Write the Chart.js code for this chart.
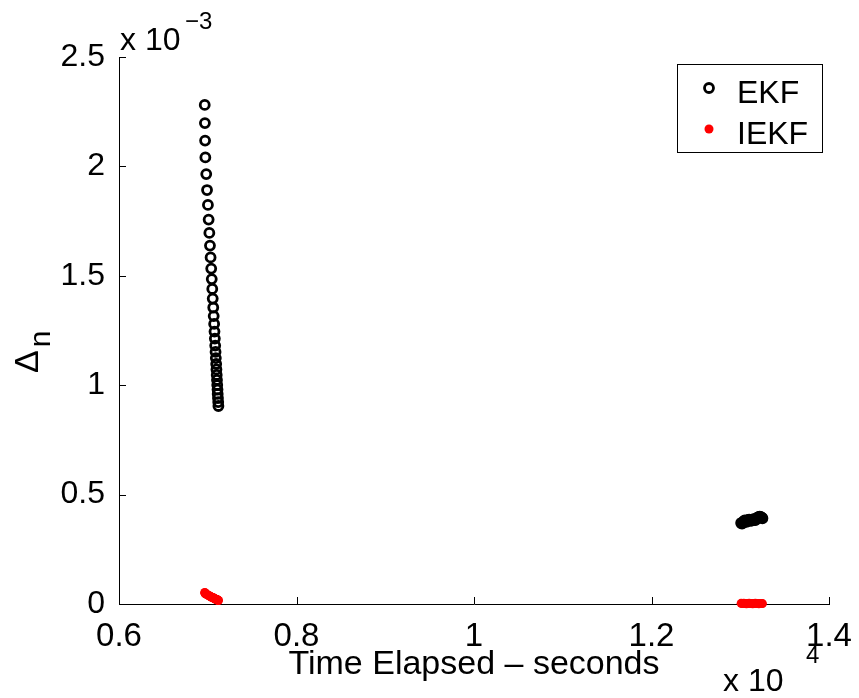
<!DOCTYPE html>
<html>
<head>
<meta charset="utf-8">
<script src="https://cdn.jsdelivr.net/npm/chart.js@4.4.1/dist/chart.umd.min.js"></script>
<style>
  html, body { margin: 0; padding: 0; background: #fff; }
  #wrap { width: 859px; height: 698px; }
</style>
</head>
<body>
<div id="wrap"><canvas id="delta-chart" width="859" height="698"></canvas></div>
<script>
// elapsed time in seconds, Delta_n in units of 1e-3
const runOneTime = [6966, 6968, 6970, 6973, 6983, 6992, 7002, 7010, 7018, 7025, 7032,
  7039, 7045, 7051, 7056, 7062, 7067, 7072, 7076, 7080, 7084, 7088, 7091, 7095, 7098,
  7101, 7104, 7107, 7110, 7112, 7115, 7118, 7120];
const ekfRunOne = [2.281, 2.198, 2.118, 2.041, 1.965, 1.892, 1.824, 1.757, 1.696, 1.638,
  1.584, 1.533, 1.485, 1.440, 1.396, 1.355, 1.316, 1.280, 1.245, 1.213, 1.181, 1.152,
  1.124, 1.097, 1.072, 1.047, 1.024, 1.001, 0.980, 0.960, 0.941, 0.923, 0.905];
const iekfRunOne = [0.053, 0.051, 0.049, 0.047, 0.045, 0.043, 0.041, 0.039, 0.037, 0.035,
  0.034, 0.032, 0.031, 0.030, 0.029, 0.028, 0.027, 0.026, 0.025, 0.024, 0.023, 0.022,
  0.022, 0.021, 0.020, 0.020, 0.019, 0.019, 0.018, 0.018, 0.017, 0.017, 0.016];

const runTwoTime = [13010, 13020, 13030, 13040, 13050, 13060, 13070, 13080, 13090, 13100,
  13110, 13120, 13130, 13140, 13150, 13160, 13170, 13180, 13190, 13200, 13210, 13220,
  13230, 13240, 13250];
const ekfRunTwo = [0.370, 0.368, 0.372, 0.378, 0.382, 0.380, 0.376, 0.379, 0.384, 0.386,
  0.383, 0.380, 0.382, 0.386, 0.388, 0.385, 0.384, 0.388, 0.393, 0.396, 0.398, 0.399,
  0.398, 0.395, 0.392];
const iekfRunTwo = [0.003, 0.002, 0.002, 0.003, 0.002, 0.002, 0.001, 0.002, 0.002, 0.003,
  0.002, 0.002, 0.002, 0.001, 0.002, 0.002, 0.003, 0.002, 0.002, 0.002, 0.001, 0.002,
  0.002, 0.002, 0.002];

const xTicks = [6000, 8000, 10000, 12000, 14000];
const yTicks = [0, 0.5, 1, 1.5, 2, 2.5];

const FONT = 'Liberation Sans, Arial, Helvetica, sans-serif';

function toPoints(times, values) {
    return times.map((t, i) => ({ x: t, y: values[i] }));
}

// inward tick marks, legend box, axis multipliers and the Delta_n label
const decorations = {
    id: 'decorations',
    afterDraw(chart) {
        const ctx = chart.ctx;
        const area = chart.chartArea;
        const xs = chart.scales.x;
        const ys = chart.scales.y;

        ctx.save();
        ctx.strokeStyle = '#000';
        ctx.lineWidth = 1;
        ctx.beginPath();
        xTicks.forEach(v => {
            const px = Math.round(xs.getPixelForValue(v)) + 0.5;
            ctx.moveTo(px, area.bottom);
            ctx.lineTo(px, area.bottom - 7);
        });
        yTicks.forEach(v => {
            const py = Math.round(ys.getPixelForValue(v)) + 0.5;
            ctx.moveTo(area.left, py);
            ctx.lineTo(area.left + 7, py);
        });
        ctx.stroke();

        // legend
        const box = { x: 677.5, y: 64.5, w: 145, h: 88 };
        ctx.fillStyle = '#fff';
        ctx.fillRect(box.x, box.y, box.w, box.h);
        ctx.strokeRect(box.x, box.y, box.w, box.h);
        chart.data.datasets.forEach((ds, i) => {
            const cy = 88 + i * 41;
            ctx.beginPath();
            ctx.arc(709, cy, ds.pointRadius, 0, Math.PI * 2);
            if (ds.pointBorderWidth > 0) {
                ctx.lineWidth = ds.pointBorderWidth;
                ctx.strokeStyle = ds.pointBorderColor;
                ctx.stroke();
            } else {
                ctx.fillStyle = ds.pointBackgroundColor;
                ctx.fill();
            }
            ctx.fillStyle = '#000';
            ctx.font = '32px ' + FONT;
            ctx.textAlign = 'left';
            ctx.textBaseline = 'alphabetic';
            ctx.fillText(ds.label, 737, cy + 15);
        });

        // multipliers
        ctx.fillStyle = '#000';
        ctx.textBaseline = 'alphabetic';
        ctx.font = '32px ' + FONT;
        ctx.fillText('x 10', 120, 50);
        ctx.font = '24px ' + FONT;
        ctx.fillText('\u22123', 185, 29);
        ctx.font = '32px ' + FONT;
        ctx.fillText('x 10', 723, 691);
        ctx.font = '24px ' + FONT;
        ctx.fillText('4', 806, 663);

        // rotated y label: Delta with subscript n
        ctx.translate(38, 373);
        ctx.rotate(-Math.PI / 2);
        ctx.font = '34px ' + FONT;
        ctx.fillText('\u0394', 0, 0);
        const w = ctx.measureText('\u0394').width;
        ctx.font = '30px ' + FONT;
        ctx.fillText('n', w + 3, 12);
        ctx.restore();
    }
};

const ctx = document.getElementById('delta-chart').getContext('2d');

new Chart(ctx, {
    type: 'scatter',
    data: {
        datasets: [{
            label: 'EKF',
            data: toPoints(runOneTime, ekfRunOne).concat(toPoints(runTwoTime, ekfRunTwo)),
            pointStyle: 'circle',
            pointRadius: 4.5,
            pointBorderWidth: 2.8,
            pointBorderColor: '#000',
            pointBackgroundColor: 'rgba(0,0,0,0)',
            clip: false
        }, {
            label: 'IEKF',
            data: toPoints(runOneTime, iekfRunOne).concat(toPoints(runTwoTime, iekfRunTwo)),
            pointStyle: 'circle',
            pointRadius: 4.5,
            pointBorderWidth: 0,
            pointBorderColor: '#ff0000',
            pointBackgroundColor: '#ff0000',
            clip: false
        }]
    },
    options: {
        responsive: false,
        devicePixelRatio: 1,
        animation: false,
        layout: { padding: { left: 0, top: 57, right: 30, bottom: 0 } },
        plugins: {
            legend: { display: false },
            tooltip: { enabled: false }
        },
        scales: {
            x: {
                type: 'linear',
                min: 6000,
                max: 14000,
                afterFit(scale) { scale.height = 94; },
                afterBuildTicks(scale) { scale.ticks = xTicks.map(v => ({ value: v })); },
                grid: { display: false },
                border: { display: true, color: '#000', width: 1 },
                ticks: {
                    color: '#000',
                    font: { family: FONT, size: 33 },
                    padding: 5,
                    maxRotation: 0,
                    callback: v => String(v / 1e4)
                },
                title: {
                    display: true,
                    text: 'Time Elapsed \u2013 seconds',
                    color: '#000',
                    font: { family: FONT, size: 34 },
                    padding: { top: 0, bottom: 13 }
                }
            },
            y: {
                type: 'linear',
                min: 0,
                max: 2.5,
                afterFit(scale) { scale.width = 119; },
                afterBuildTicks(scale) { scale.ticks = yTicks.map(v => ({ value: v })); },
                grid: { display: false },
                border: { display: true, color: '#000', width: 1 },
                ticks: {
                    color: '#000',
                    font: { family: FONT, size: 32 },
                    padding: 6,
                    callback: v => String(v)
                }
            }
        }
    },
    plugins: [decorations]
});
</script>
</body>
</html>
